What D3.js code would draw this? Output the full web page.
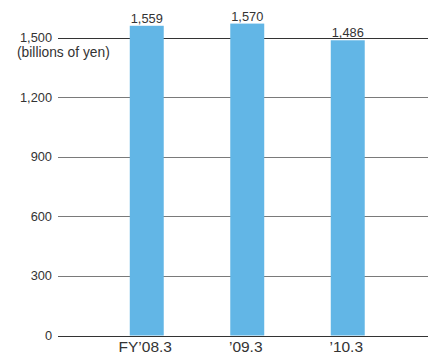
<!DOCTYPE html>
<html>
<head>
<meta charset="utf-8">
<script src="https://cdn.jsdelivr.net/npm/d3@7"></script>
<style>
  html, body { margin: 0; padding: 0; background: #fff; }
  svg text { font-family: "Liberation Sans", Arial, Helvetica, sans-serif; fill: #333; }
</style>
</head>
<body>
<svg id="chart" width="428" height="357"></svg>
<script>
// Net sales by fiscal year
const categories = ["FY\u201908.3", "\u201909.3", "\u201910.3"];
const values = [1559, 1570, 1486];
const tickValues = [0, 300, 600, 900, 1200, 1500];
const unitLabel = "(billions of yen)";

const svg = d3.select("#chart");
const W = 428;

const y = d3.scaleLinear().domain([0, 1500]).range([335.5, 37.5]);
const x = d3.scaleBand()
  .domain(categories)
  .range([96.5, 398])
  .paddingInner(0.662)
  .paddingOuter(0.331);

const gridLeft = 58;

// horizontal gridlines
svg.append("g").selectAll("line")
  .data(tickValues)
  .join("line")
  .attr("x1", gridLeft)
  .attr("x2", W)
  .attr("y1", d => Math.round(y(d)) + 0.5)
  .attr("y2", d => Math.round(y(d)) + 0.5)
  .attr("stroke", d => (d === 0 || d === 1500) ? "#333" : "#7a7a7a")
  .attr("stroke-width", 1.2);

// y tick labels
const fmt = d3.format(",");
svg.append("g").selectAll("text")
  .data(tickValues)
  .join("text")
  .attr("x", 52)
  .attr("y", d => y(d) + 4.5)
  .attr("text-anchor", "end")
  .style("font-size", "12.8px")
  .text(d => fmt(d));

svg.append("text")
  .attr("x", 17)
  .attr("y", 57)
  .style("font-size", "13.8px")
  .text(unitLabel);

// bars
svg.append("g").selectAll("rect")
  .data(values)
  .join("rect")
  .attr("x", (d, i) => x(categories[i]))
  .attr("width", x.bandwidth())
  .attr("y", d => y(d))
  .attr("height", d => y(0) - y(d))
  .attr("fill", "#62b6e6");

// value labels
svg.append("g").selectAll("text")
  .data(values)
  .join("text")
  .attr("x", (d, i) => x(categories[i]) + x.bandwidth() / 2)
  .attr("y", d => y(d) - 3)
  .attr("text-anchor", "middle")
  .style("font-size", "12.8px")
  .text(d => fmt(d));

// category labels
svg.append("g").selectAll("text")
  .data(categories)
  .join("text")
  .attr("x", (d, i) => x(d) + x.bandwidth() / 2 - 1.5)
  .attr("y", 351.5)
  .attr("text-anchor", "middle")
  .style("font-size", "15.5px")
  .text(d => d);
</script>
</body>
</html>
